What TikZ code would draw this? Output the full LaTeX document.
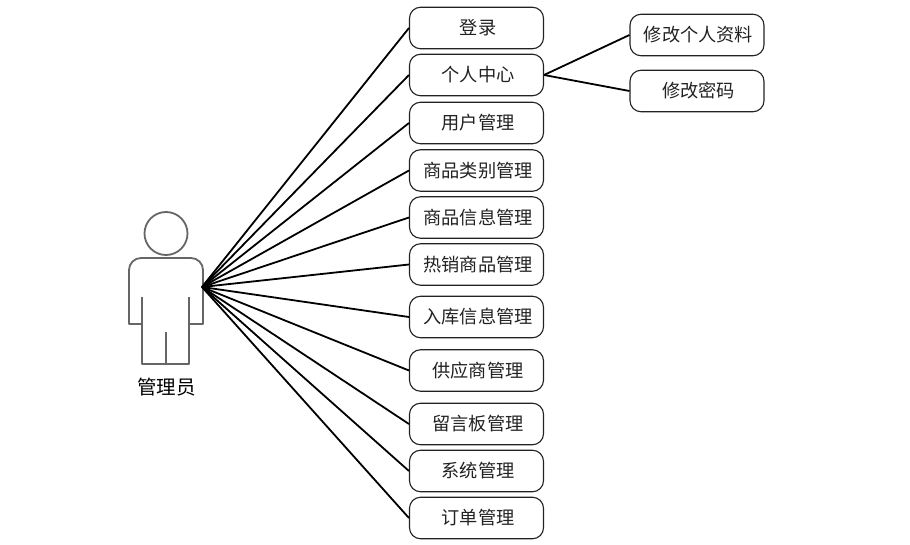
\documentclass[tikz,border=0pt]{standalone}
\usepackage{fontspec}
\setmainfont{Noto Sans CJK SC}
\definecolor{actorgray}{HTML}{666666}
\definecolor{inkdark}{HTML}{222222}
\tikzset{
  funcbox/.style={draw=inkdark,line width=1.1pt,rounded corners=11pt,minimum width=134pt,minimum height=41.5pt,inner sep=0pt,fill=white,text=inkdark,font=\fontsize{18.2pt}{20pt}\selectfont},
  link/.style={draw=black,line width=1.8pt},
  actorline/.style={draw=actorgray,line width=1.8pt,line join=round}
}
\begin{document}
\begin{tikzpicture}[x=1pt,y=-1pt]
\useasboundingbox (0,0) rectangle (910,545);
% actor
\draw[actorline] (166,233.5) circle[radius=21.5pt];
\draw[actorline] (141.7,324) -- (129,324) -- (129,270) arc[start angle=180,end angle=90,radius=12pt] -- (191,258) arc[start angle=90,end angle=0,radius=12pt] -- (203,324) -- (189,324);
\draw[actorline] (141.7,297) -- (141.7,364) -- (189,364) -- (189,297);
\draw[actorline] (166,332) -- (166,364);
\coordinate (hub) at (202,287);
\node[text=black,font=\fontsize{19.5pt}{21pt}\selectfont,inner sep=0pt] (actorlabel) at (166.5,387.5) {管理员};
% boxes
\foreach \name/\yy/\txt in {
  login/28/登录, center/75/个人中心, user/123/用户管理, cat/170.5/商品类别管理,
  info/217.5/商品信息管理, hot/264.5/热销商品管理, stock/317/入库信息管理,
  supply/370.5/供应商管理, board/424/留言板管理, sys/471/系统管理, order/518/订单管理}{
  \node[funcbox] (\name) at (476.5,\yy) {\hspace*{3pt}\txt};
  \draw[link] (hub) -- (\name.west);
}
\node[funcbox] (profile) at (697,35) {\hspace*{3pt}修改个人资料};
\node[funcbox] (pwd) at (697,91) {\hspace*{3pt}修改密码};
\draw[link] (center.east) -- (profile.west);
\draw[link] (center.east) -- (pwd.west);
\end{tikzpicture}
\end{document}
